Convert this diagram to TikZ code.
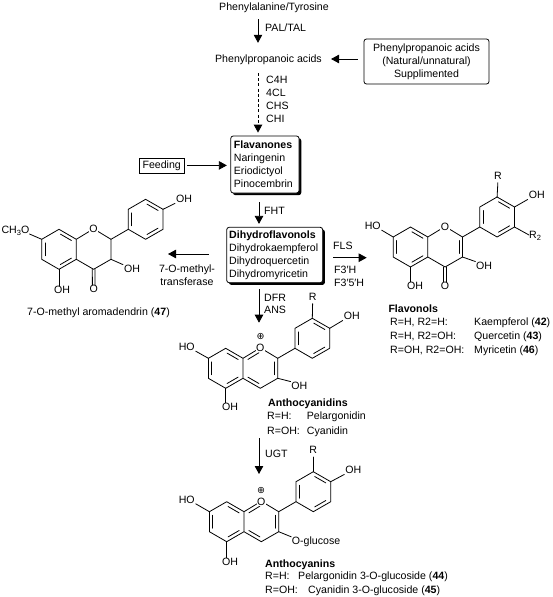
\documentclass[tikz,border=0pt]{standalone}
\usepackage{fontspec}
\setmainfont{Liberation Sans}
\newfontfamily\djv{DejaVu Sans}
\usetikzlibrary{arrows.meta,calc,shadows}
\newcommand\sbs[1]{\raisebox{-2pt}{\fontsize{7.5}{8}\selectfont #1}}
\newcommand\dbl[3]{\draw[bond] ($(#1)!.1!(#2)!.2!(#3)$) -- ($(#2)!.1!(#1)!.2!(#3)$);}
\newcommand\skel[3]{%
  \coordinate (#1c8) at (#2,#3);
  \coordinate (#1c8a) at (#2+17.3,#3+10);
  \coordinate (#1c4a) at (#2+17.3,#3+30);
  \coordinate (#1c5) at (#2,#3+40);
  \coordinate (#1c6) at (#2-17.3,#3+30);
  \coordinate (#1c7) at (#2-17.3,#3+10);
  \coordinate (#1o) at (#2+34.6,#3-0.5);
  \coordinate (#1c2) at (#2+52,#3+10);
  \coordinate (#1c3) at (#2+52,#3+30);
  \coordinate (#1c4) at (#2+34.6,#3+40);
  \coordinate (#1b1) at (#2+69.3,#3);
  \coordinate (#1b2) at (#2+69.3,#3-20);
  \coordinate (#1b3) at (#2+86.6,#3-30);
  \coordinate (#1b4) at (#2+104,#3-20);
  \coordinate (#1b5) at (#2+104,#3);
  \coordinate (#1b6) at (#2+86.6,#3+10);
  \coordinate (#1cA) at (#2,#3+20);
  \coordinate (#1cC) at (#2+34.6,#3+20);
  \coordinate (#1cB) at (#2+86.6,#3-10);
  \draw[bond] (#1c8a) -- (#1c8) -- (#1c7) -- (#1c6) -- (#1c5) -- (#1c4a) -- (#1c8a) -- (#1o) -- (#1c2) -- (#1c3) -- (#1c4) -- (#1c4a);
  \draw[bond] (#1c2) -- (#1b1);
  \draw[bond] (#1b1) -- (#1b2) -- (#1b3) -- (#1b4) -- (#1b5) -- (#1b6) -- cycle;
  \dbl{#1c8}{#1c8a}{#1cA}
  \dbl{#1c6}{#1c7}{#1cA}
  \dbl{#1c5}{#1c4a}{#1cA}
  \dbl{#1b1}{#1b2}{#1cB}
  \dbl{#1b3}{#1b4}{#1cB}
  \dbl{#1b5}{#1b6}{#1cB}
}
\tikzset{
  bond/.style={line width=0.8pt,line cap=round,line join=round},
  arr/.style={line width=0.8pt,-{Triangle[length=8pt,width=8.5pt]}},
  txt/.style={inner sep=0pt,text height=7.6pt,text depth=0pt,font=\fontsize{10.6}{13}\selectfont},
  tl/.style={txt,anchor=west},
  atom/.style={txt,fill=white},
  ringo/.style={txt,fill=white,inner sep=0.6pt},
  plusmark/.style={inner sep=0pt,font=\djv\fontsize{9.5}{10}\selectfont},
  plainbox/.style={draw,line width=0.8pt,inner sep=0pt,rounded corners=2.5pt,fill=white},
  shadowbox/.style={plainbox,align=left,font=\fontsize{10.6}{13}\selectfont,
     drop shadow={shadow xshift=2.2pt,shadow yshift=-2.2pt,fill=black,opacity=1}},
}
\begin{document}
\begin{tikzpicture}[x=1pt,y=-1pt]
\useasboundingbox (0,0) rectangle (553,597);
\fill[white] (0,0) rectangle (553,597);
% top part
\node[txt] (phe) at (274,7) {Phenylalanine/Tyrosine};
\node[txt] (pp) at (268.5,59) {Phenylpropanoic acids};
\node[tl] (pal) at (265,28) {PAL/TAL};
\node[plainbox,minimum width=125pt,minimum height=45pt,align=center,font=\fontsize{10.6}{13}\selectfont] (supp) at (426.5,61.5) {Phenylpropanoic acids\\(Natural/unnatural)\\Supplimented};
\node[tl] (e1) at (266,80) {C4H};
\node[tl] (e2) at (266,93) {4CL};
\node[tl] (e3) at (266,106) {CHS};
\node[tl] (e4) at (266,119) {CHI};
\node[shadowbox,minimum width=68.3pt,minimum height=57pt,text width=62pt] (flav) at (264.9,164.5) {\textbf{Flavanones}\\Naringenin\\Eriodictyol\\Pinocembrin};
\node[draw,line width=0.8pt,fill=white,inner sep=0pt,minimum width=44.7pt,minimum height=15pt,font=\fontsize{10.6}{13}\selectfont] (feed) at (161.7,165.4) {Feeding};
\node[tl] (fht) at (264,211) {FHT};
\node[shadowbox,minimum width=96pt,minimum height=55.4pt,text width=91pt] (dih) at (274.7,255) {\textbf{Dihydroflavonols}\\Dihydrokaempferol\\Dihydroquercetin\\Dihydromyricetin};
\node[txt] (mt1) at (187,269) {7-O-methyl-};
\node[txt] (mt2) at (187,281.5) {transferase};
\node[tl] (fls) at (333,246) {FLS};
\node[tl] (f3h) at (334,270) {F3′H};
\node[tl] (f35h) at (334,283) {F3′5′H};
\node[tl] (dfr) at (264,298) {DFR};
\node[tl] (ans) at (264,310) {ANS};
\node[tl] (ugt) at (265,454) {UGT};
% free ends
\coordinate (to47) at (168,254);
\coordinate (toflo) at (366.7,257.7);
\coordinate (tocy) at (259,322.7);
\coordinate (fromcy) at (259,438);
\coordinate (toan) at (259,474);
% arrows
\draw[arr,shorten <=8.2pt,shorten >=12.2pt] ([xshift=-16pt]phe.south) -- ([xshift=-10.5pt]pp.north);
\draw[arr,shorten <=6pt,shorten >=9pt] (supp.west |- pp.east) -- (pp.east);
\draw[arr,dashed,dash pattern=on 3pt off 2.2pt,shorten <=10pt,shorten >=3pt] ([xshift=-10.5pt]pp.south) -- ([xshift=-6.9pt]flav.north);
\draw[arr,shorten <=3pt,shorten >=3.5pt] (feed.east) -- (feed.east -| flav.west);
\draw[arr,shorten <=9pt,shorten >=3pt] ([xshift=-5.9pt]flav.south) -- ([xshift=-15.7pt]dih.north);
\draw[arr,shorten <=17.7pt] (dih.west |- to47) -- (to47);
\draw[arr,shorten <=10pt] (dih.east |- toflo) -- (toflo);
\draw[arr,shorten <=6.3pt] ([xshift=-15.7pt]dih.south) -- (tocy);
\draw[arr] (fromcy) -- (toan);
% molecule 47
\skel{ma}{59}{229.3}
\node[ringo] (maO) at (mao) {O};
\node[atom,anchor=east] (maMe) at (29.5,230) {CH\sbs{3}O};
\node[atom] (maOH5) at (62,290) {OH};
\node[atom] (maOx) at (93.7,289) {O};
\node[atom] (maOH3) at (132,269) {OH};
\node[atom] (maOHb) at (184,199) {OH};
\draw[bond] (mac7) -- (maMe.south east);
\draw[bond] (mac5) -- (mac5 |- maOH5.north);
\draw[bond] ([xshift=-1.3pt]mac4) -- ([xshift=-1.3pt]maOx.north);
\draw[bond] ([xshift=1.3pt]mac4) -- ([xshift=1.3pt]maOx.north);
\draw[bond,shorten >=1pt] (mac3) -- (maOH3.north west);
\draw[bond,shorten >=1pt] (mab4) -- (maOHb.south west);
\node[txt] (n47) at (98.5,312) {7-O-methyl aromadendrin (\textbf{47})};
% flavonol
\skel{fl}{410.5}{227}
\dbl{flc2}{flc3}{flcC}
\node[ringo] (flO) at (flo) {O};
\node[atom] (flHO) at (372.7,225.7) {HO};
\node[atom] (flOH5) at (415,285.7) {OH};
\node[atom] (flOx) at (445.1,285.7) {O};
\node[atom] (flOH3) at (484,265.7) {OH};
\node[atom] (flR) at (498,175.7) {R};
\node[atom] (flOHb) at (536.7,195) {OH};
\node[atom,anchor=west] (flR2) at (529,235) {R\sbs{2}};
\draw[bond,shorten >=1pt] (flc7) -- (flHO.south east);
\draw[bond] (flc5) -- (flc5 |- flOH5.north);
\draw[bond] ([xshift=-1.3pt]flc4) -- ([xshift=-1.3pt]flOx.north);
\draw[bond] ([xshift=1.3pt]flc4) -- ([xshift=1.3pt]flOx.north);
\draw[bond,shorten >=0.5pt] (flc3) -- (flOH3.north west);
\draw[bond,shorten >=3pt] (flb3) -- (flR.south);
\draw[bond,shorten >=1pt] (flb4) -- (flOHb.south west);
\draw[bond] (flb5) -- (flR2.west);
\node[tl,font=\fontsize{10.6}{13}\bfseries\selectfont] (flT) at (388.3,308.3) {Flavonols};
\node[tl] (f1a) at (390,321.7) {R=H, R2=H:};
\node[tl] (f2a) at (390,336) {R=H, R2=OH:};
\node[tl] (f3a) at (390,350) {R=OH, R2=OH:};
\node[tl] (f1b) at (474,321.7) {Kaempferol (\textbf{42})};
\node[tl] (f2b) at (474,336) {Quercetin (\textbf{43})};
\node[tl] (f3b) at (474,350) {Myricetin (\textbf{46})};
% anthocyanidin
\skel{cy}{225.7}{348.3}
\dbl{cyc8a}{cyo}{cycC}
\dbl{cyc2}{cyc3}{cycC}
\dbl{cyc4}{cyc4a}{cycC}
\node[ringo] (cyO) at (cyo) {O};
\node[plusmark] (cyP) at (260.7,336.7) {⊕};
\node[atom] (cyHO) at (186.7,346.7) {HO};
\node[atom] (cyOH5) at (230,406.7) {OH};
\node[atom] (cyOH3) at (299.3,385.7) {OH};
\node[atom] (cyR) at (312.7,296.7) {R};
\node[atom] (cyOHb) at (351.7,316) {OH};
\draw[bond,shorten >=1pt] (cyc7) -- (cyHO.south east);
\draw[bond] (cyc5) -- (cyc5 |- cyOH5.north);
\draw[bond,shorten >=0.5pt] (cyc3) -- (cyOH3.north west);
\draw[bond,shorten >=3pt] (cyb3) -- (cyR.south);
\draw[bond,shorten >=1pt] (cyb4) -- (cyOHb.south west);
\node[tl,font=\fontsize{10.6}{13}\bfseries\selectfont] (cyT) at (268,402.7) {Anthocyanidins};
\node[tl] (c1a) at (267,416) {R=H:};
\node[tl] (c2a) at (267,431) {R=OH:};
\node[tl] (c1b) at (306.7,416) {Pelargonidin};
\node[tl] (c2b) at (306.7,431) {Cyanidin};
% anthocyanin
\skel{an}{226.7}{501.7}
\dbl{anc8a}{ano}{ancC}
\dbl{anc2}{anc3}{ancC}
\dbl{anc4}{anc4a}{ancC}
\node[ringo] (anO) at (ano) {O};
\node[plusmark] (anP) at (261,490.7) {⊕};
\node[atom] (anHO) at (186.7,499.3) {HO};
\node[atom] (anOH5) at (230,561.7) {OH};
\node[atom,anchor=west] (anG) at (291.7,541) {O-glucose};
\node[atom] (anR) at (313.3,450) {R};
\node[atom] (anOHb) at (353.3,470) {OH};
\draw[bond,shorten >=1pt] (anc7) -- (anHO.south east);
\draw[bond] (anc5) -- (anc5 |- anOH5.north);
\draw[bond,shorten >=0.5pt] (anc3) -- (anG.north west);
\draw[bond,shorten >=3pt] (anb3) -- (anR.south);
\draw[bond,shorten >=1pt] (anb4) -- (anOHb.south west);
\node[tl,font=\fontsize{10.6}{13}\bfseries\selectfont] (anT) at (265,563.3) {Anthocyanins};
\node[tl] (a1a) at (265,576) {R=H:};
\node[tl] (a2a) at (265,590) {R=OH:};
\node[tl] (a1b) at (298,576) {Pelargonidin 3-O-glucoside (\textbf{44})};
\node[tl] (a2b) at (308,590) {Cyanidin 3-O-glucoside (\textbf{45})};
\end{tikzpicture}
\end{document}
